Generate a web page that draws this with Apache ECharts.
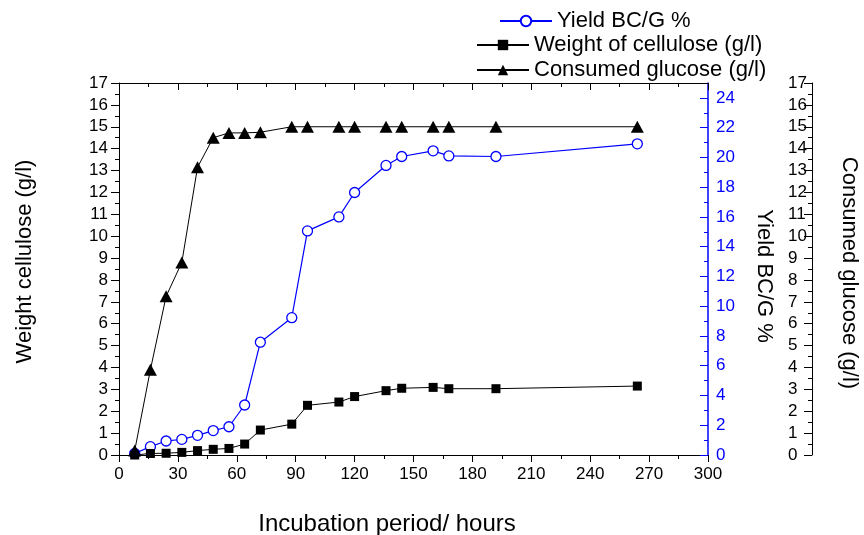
<!DOCTYPE html>
<html>
<head>
<meta charset="utf-8">
<script src="https://cdn.jsdelivr.net/npm/echarts@6/dist/echarts.min.js"></script>
<style>
html,body{margin:0;padding:0;background:#fff;}
#chart{width:864px;height:535px;}
</style>
</head>
<body>
<div id="chart"></div>
<script>
var hours = [8, 16, 24, 32, 40, 48, 56, 64, 72, 88, 96, 112, 120, 136, 144, 160, 168, 192, 264];
var yieldBCG = [0.1, 0.56, 0.94, 1.05, 1.32, 1.64, 1.9, 3.36, 7.58, 9.23, 15.06, 16.0, 17.64, 19.46, 20.06, 20.44, 20.1, 20.06, 20.91];
var weightCellulose = [0.0, 0.07, 0.08, 0.12, 0.2, 0.26, 0.3, 0.5, 1.14, 1.41, 2.27, 2.42, 2.67, 2.94, 3.05, 3.09, 3.03, 3.03, 3.15];
var consumedGlucose = [0.2, 3.9, 7.25, 8.8, 13.15, 14.5, 14.72, 14.72, 14.75, 15.0, 15.0, 15.0, 15.0, 15.0, 15.0, 15.0, 15.0, 15.0, 15.0];
var yieldTicks = [0, 2, 4, 6, 8, 10, 12, 14, 16, 18, 20, 22, 24];

var FONT = 'Liberation Sans, Arial, sans-serif';
var BLUE = '#0000ff';
var BLACK = '#000000';

function pairs(xs, ys) { return xs.map(function (x, i) { return [x, ys[i]]; }); }

var chart = echarts.init(document.getElementById('chart'), null, { renderer: 'canvas' });

var legendText = { fontFamily: FONT, fontSize: 22, color: BLACK };

var option = {
  animation: false,
  backgroundColor: '#ffffff',
  grid: { left: 119, right: 156, top: 83, bottom: 80, containLabel: false, outerBoundsMode: 'none' },
  legend: [
    { data: ['Yield BC/G %'], left: 499, top: 10, padding: 0, itemWidth: 52, itemHeight: 13, itemGap: 0, textStyle: legendText },
    { data: ['Weight of cellulose (g/l)'], left: 476, top: 34, padding: 0, itemWidth: 52, itemHeight: 13, itemGap: 0, textStyle: legendText },
    { data: ['Consumed glucose (g/l)'], left: 476, top: 59, padding: 0, itemWidth: 52, itemHeight: 13, itemGap: 0, textStyle: legendText }
  ],
  xAxis: [
    {
      type: 'value', position: 'bottom', min: 0, max: 300, interval: 30,
      name: 'Incubation period/ hours', nameLocation: 'middle', nameGap: 57,
      nameTextStyle: { fontFamily: FONT, fontSize: 24, color: BLACK, padding: [0, 53, 0, 0] },
      axisLine: { show: true, onZero: false, lineStyle: { color: BLACK, width: 1 } },
      axisTick: { show: true, inside: false, length: 7, lineStyle: { color: BLACK } },
      minorTick: { show: true, splitNumber: 2, length: 4, lineStyle: { color: BLACK } },
      axisLabel: { fontFamily: FONT, fontSize: 17, color: BLACK, margin: 11 },
      splitLine: { show: false }, minorSplitLine: { show: false }
    },
    {
      type: 'value', position: 'top', min: 0, max: 300, interval: 30,
      axisLine: { show: true, onZero: false, lineStyle: { color: BLACK, width: 1 } },
      axisTick: { show: true, inside: true, length: 7, lineStyle: { color: BLACK } },
      minorTick: { show: true, splitNumber: 2, length: 4, lineStyle: { color: BLACK } },
      axisLabel: { show: false },
      splitLine: { show: false }
    }
  ],
  yAxis: [
    {
      type: 'value', position: 'left', min: 0, max: 17, interval: 1,
      name: 'Weight cellulose (g/l)', nameLocation: 'middle', nameGap: 83, nameRotate: 90,
      nameTextStyle: { fontFamily: FONT, fontSize: 22, color: BLACK, padding: [0, 0, 0, 15] },
      axisLine: { show: true, onZero: false, lineStyle: { color: BLACK, width: 1 } },
      axisTick: { show: true, inside: false, length: 8, lineStyle: { color: BLACK } },
      minorTick: { show: true, splitNumber: 2, length: 4, lineStyle: { color: BLACK } },
      axisLabel: { fontFamily: FONT, fontSize: 17, color: BLACK, margin: 11 },
      splitLine: { show: false }
    },
    {
      type: 'value', position: 'right', offset: 0, min: 0, max: 25, interval: 2,
      name: 'Yield BC/G %', nameLocation: 'middle', nameGap: 45, nameRotate: -90,
      nameTextStyle: { fontFamily: FONT, fontSize: 22, color: BLACK, padding: [0, 0, 0, 14] },
      axisLine: { show: true, onZero: false, lineStyle: { color: BLUE, width: 1.5 } },
      axisTick: { show: true, inside: true, length: 8, customValues: yieldTicks, lineStyle: { color: BLUE } },
      minorTick: { show: true, splitNumber: 2, length: 4, lineStyle: { color: BLUE } },
      axisLabel: { fontFamily: FONT, fontSize: 17, color: BLUE, margin: 8, customValues: yieldTicks },
      splitLine: { show: false }
    },
    {
      type: 'value', position: 'right', offset: 104, min: 0, max: 17, interval: 1,
      name: 'Consumed glucose (g/l)', nameLocation: 'middle', nameGap: 26, nameRotate: -90,
      nameTextStyle: { fontFamily: FONT, fontSize: 22, color: BLACK, padding: [0, 0, 0, 8] },
      axisLine: { show: true, onZero: false, lineStyle: { color: BLACK, width: 1 } },
      axisTick: { show: true, inside: true, length: 8, lineStyle: { color: BLACK } },
      minorTick: { show: true, splitNumber: 2, length: 4, lineStyle: { color: BLACK } },
      axisLabel: { inside: true, align: 'left', fontFamily: FONT, fontSize: 17, color: BLACK, margin: 24 },
      splitLine: { show: false }
    }
  ],
  series: [
    {
      name: 'Yield BC/G %', type: 'line', xAxisIndex: 0, yAxisIndex: 1,
      data: pairs(hours, yieldBCG),
      symbol: 'circle', symbolSize: 10, showAllSymbol: true,
      lineStyle: { color: BLUE, width: 1.2 },
      itemStyle: { color: '#ffffff', borderColor: BLUE, borderWidth: 1.3 },
      z: 3
    },
    {
      name: 'Weight of cellulose (g/l)', type: 'line', xAxisIndex: 0, yAxisIndex: 0,
      data: pairs(hours, weightCellulose),
      symbol: 'rect', symbolSize: 9, showAllSymbol: true,
      lineStyle: { color: BLACK, width: 1 },
      itemStyle: { color: BLACK, borderColor: BLACK, borderWidth: 0 },
      z: 4
    },
    {
      name: 'Consumed glucose (g/l)', type: 'line', xAxisIndex: 0, yAxisIndex: 2,
      data: pairs(hours, consumedGlucose),
      symbol: 'triangle', symbolSize: [13, 12], showAllSymbol: true,
      lineStyle: { color: BLACK, width: 1 },
      itemStyle: { color: BLACK, borderColor: BLACK, borderWidth: 0 },
      z: 5
    }
  ]
};

chart.setOption(option);
</script>
</body>
</html>
